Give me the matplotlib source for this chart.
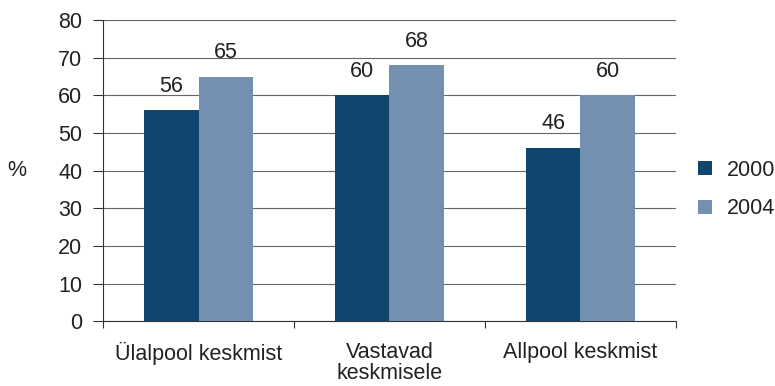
import numpy as np
import matplotlib.pyplot as plt

plt.rcParams['font.family'] = ['Liberation Sans', 'DejaVu Sans']

categories = ['Ülalpool keskmist', 'Vastavad\nkeskmisele', 'Allpool keskmist']
series = ['2000', '2004']
values_2000 = [56, 60, 46]
values_2004 = [65, 68, 60]
yticks = [0, 10, 20, 30, 40, 50, 60, 70, 80]

colors = ['#10456e', '#7490b1']
txt = '#222222'

fig = plt.figure(figsize=(7.75, 3.86), dpi=100)
ax = fig.add_axes([0.133, 0.168, 0.739, 0.780])

x = np.arange(len(categories))
w = 0.284
fs = 15.5

for vals, off, col, lab in [(values_2000, -w / 2, colors[0], series[0]),
                            (values_2004, w / 2, colors[1], series[1])]:
    bars = ax.bar(x + off, vals, width=w, color=col, label=lab, zorder=3)
    for b, v in zip(bars, vals):
        ax.text(b.get_x() + b.get_width() / 2, v + 3.6, str(v),
                ha='center', va='bottom', fontsize=fs, color=txt)

ax.set_xlim(-0.5, len(categories) - 0.5)
ax.set_ylim(0, 80)
ax.set_yticks(yticks)
ax.yaxis.grid(True, color='#666666', lw=0.8, zorder=0)
ax.tick_params(axis='y', length=7, width=0.8, color='#333333',
               labelsize=fs, pad=8, labelcolor=txt)

# category labels centred, ticks on the group boundaries
ax.set_xticks(np.arange(len(categories) + 1) - 0.5)
ax.set_xticklabels([])
ax.set_xticks(x, minor=True)
ax.set_xticklabels(categories, minor=True, fontsize=fs, color=txt,
                   linespacing=1.0)
ax.tick_params(axis='x', which='major', length=5, width=0.8, color='#333333')
ax.tick_params(axis='x', which='minor', length=0, pad=15)

for s in ['top', 'right']:
    ax.spines[s].set_visible(False)
for s in ['left', 'bottom']:
    ax.spines[s].set_color('#333333')
    ax.spines[s].set_linewidth(0.8)

fig.text(17 / 775, 1 - 171 / 386, '%', fontsize=fs, color=txt,
         ha='center', va='center')

ax.legend(loc='center left', bbox_to_anchor=(698 / 775, 0.509),
          bbox_transform=fig.transFigure, frameon=False, fontsize=fs,
          handlelength=0.65, handleheight=0.65, labelspacing=0.82,
          handletextpad=0.7, borderpad=0, borderaxespad=0,
          labelcolor=txt)

fig.savefig('out.png', dpi=100)
